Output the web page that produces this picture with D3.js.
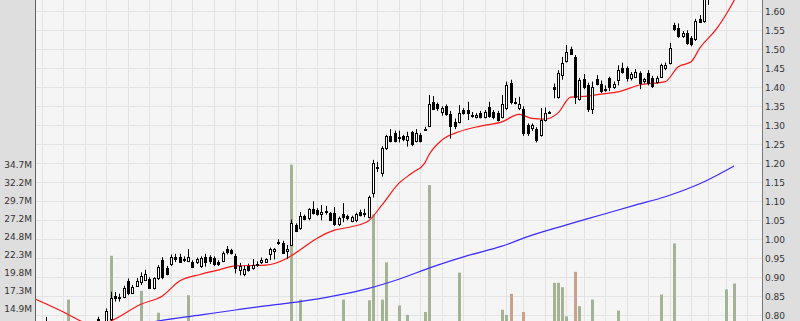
<!DOCTYPE html>
<html>
<head>
<meta charset="utf-8">
<script src="https://cdnjs.cloudflare.com/ajax/libs/d3/7.8.5/d3.min.js"></script>
<style>
body { margin: 0; background: #fff; }
svg { display: block; }
</style>
</head>
<body>
<script>
// SVG size
var width = 800,
	height = 321;

// daily candles, first entry is trading day 1
var firstDay = 1;
var opens = [0.780,0.772,0.765,0.770,0.762,0.768,0.775,0.762,0.758,0.765,0.760,0.766,0.791,0.780,0.772,0.790,0.851,0.848,0.849,0.890,
	0.860,0.878,0.887,0.894,0.896,0.871,0.897,0.945,0.924,0.935,0.954,0.954,0.945,0.943,0.939,0.940,0.930,0.954,0.954,0.951,
	0.941,0.944,0.974,0.972,0.956,0.919,0.909,0.930,0.924,0.934,0.939,0.941,0.962,0.968,0.991,0.990,0.968,0.985,1.038,1.029,
	1.061,1.055,1.079,1.077,1.067,1.072,1.068,1.068,1.039,1.067,1.061,1.049,1.051,1.073,1.068,1.058,1.121,1.189,1.174,1.240,
	1.272,1.280,1.267,1.271,1.261,1.282,1.260,1.275,1.289,1.298,1.360,1.356,1.335,1.350,1.330,1.310,1.310,1.340,1.340,1.326,
	1.322,1.333,1.322,1.347,1.336,1.333,1.321,1.345,1.412,1.361,1.345,1.342,1.300,1.292,1.289,1.274,1.314,1.335,1.400,1.375,
	1.432,1.470,1.500,1.480,1.370,1.421,1.406,1.343,1.422,1.410,1.395,1.424,1.400,1.420,1.450,1.450,1.424,1.428,1.438,1.416,
	1.438,1.424,1.414,1.428,1.450,1.465,1.564,1.555,1.536,1.542,1.529,1.527,1.580,1.575,1.640,1.665,1.690,1.700,1.695,1.740,1.735];
var highs = [0.796,0.780,0.775,0.778,0.772,0.782,0.780,0.770,0.768,0.775,0.770,0.780,0.796,0.783,0.818,0.862,0.861,0.857,0.878,0.897,
	0.880,0.898,0.913,0.920,0.900,0.900,0.932,0.953,0.930,0.960,0.962,0.962,0.955,0.974,0.945,0.952,0.955,0.962,0.958,0.955,
	0.945,0.968,0.982,0.975,0.962,0.938,0.930,0.936,0.948,0.942,0.952,0.950,0.978,0.977,1.000,0.996,0.985,1.052,1.042,1.072,
	1.065,1.082,1.100,1.082,1.090,1.088,1.072,1.085,1.060,1.095,1.065,1.062,1.070,1.078,1.080,1.115,1.209,1.204,1.245,1.275,
	1.290,1.286,1.286,1.275,1.283,1.285,1.290,1.280,1.296,1.380,1.377,1.360,1.350,1.355,1.338,1.318,1.353,1.345,1.362,1.335,
	1.332,1.338,1.340,1.362,1.340,1.338,1.380,1.415,1.420,1.372,1.375,1.350,1.305,1.305,1.295,1.345,1.347,1.338,1.410,1.445,
	1.480,1.511,1.507,1.485,1.425,1.435,1.412,1.415,1.432,1.418,1.405,1.428,1.415,1.458,1.465,1.455,1.440,1.448,1.442,1.425,
	1.445,1.430,1.430,1.462,1.465,1.517,1.570,1.568,1.548,1.550,1.535,1.580,1.590,1.660,1.680,1.700,1.720,1.730,1.750,1.770,1.790];
var lows = [0.765,0.760,0.755,0.760,0.752,0.760,0.758,0.750,0.748,0.755,0.752,0.760,0.772,0.765,0.768,0.785,0.836,0.836,0.845,0.853,
	0.856,0.875,0.880,0.890,0.870,0.868,0.893,0.895,0.905,0.930,0.940,0.938,0.940,0.940,0.925,0.935,0.925,0.928,0.935,0.930,
	0.930,0.940,0.960,0.960,0.910,0.905,0.903,0.915,0.920,0.928,0.935,0.938,0.945,0.947,0.985,0.962,0.948,0.982,1.020,1.025,
	1.050,1.050,1.065,1.062,1.050,1.065,1.048,1.035,1.035,1.045,1.050,1.045,1.045,1.060,1.058,1.055,1.110,1.177,1.165,1.235,
	1.255,1.255,1.255,1.258,1.244,1.245,1.255,1.255,1.285,1.295,1.340,1.338,1.325,1.325,1.265,1.290,1.305,1.328,1.314,1.320,
	1.318,1.318,1.318,1.320,1.316,1.310,1.318,1.340,1.355,1.355,1.340,1.272,1.272,1.285,1.255,1.270,1.310,1.333,1.371,1.370,
	1.420,1.465,1.485,1.356,1.365,1.395,1.335,1.330,1.405,1.385,1.388,1.390,1.396,1.405,1.436,1.415,1.418,1.425,1.395,1.410,
	1.405,1.398,1.410,1.425,1.445,1.460,1.548,1.530,1.530,1.512,1.508,1.522,1.570,1.570,1.617,1.650,1.670,1.680,1.690,1.720,1.730];
var closes = [0.772,0.765,0.770,0.762,0.768,0.775,0.762,0.758,0.765,0.760,0.766,0.775,0.780,0.770,0.811,0.845,0.845,0.849,0.872,0.859,
	0.874,0.890,0.904,0.908,0.873,0.897,0.928,0.900,0.910,0.954,0.947,0.940,0.947,0.953,0.928,0.947,0.950,0.941,0.942,0.934,
	0.934,0.965,0.967,0.963,0.924,0.930,0.921,0.919,0.933,0.936,0.945,0.947,0.974,0.975,0.993,0.965,0.975,1.042,1.023,1.061,
	1.053,1.079,1.070,1.067,1.073,1.074,1.051,1.039,1.055,1.058,1.055,1.058,1.066,1.064,1.070,1.110,1.200,1.191,1.240,1.272,
	1.260,1.260,1.269,1.264,1.272,1.250,1.280,1.260,1.291,1.356,1.343,1.345,1.345,1.330,1.298,1.298,1.333,1.333,1.333,1.328,
	1.328,1.322,1.336,1.324,1.321,1.314,1.356,1.406,1.360,1.362,1.356,1.279,1.279,1.300,1.261,1.314,1.333,1.336,1.395,1.438,
	1.465,1.494,1.488,1.375,1.419,1.400,1.342,1.400,1.410,1.390,1.396,1.400,1.410,1.446,1.441,1.424,1.435,1.441,1.412,1.421,
	1.412,1.403,1.424,1.459,1.460,1.504,1.553,1.535,1.542,1.516,1.513,1.574,1.573,1.640,1.665,1.690,1.700,1.695,1.740,1.735,1.780];

// volume bars tall enough to show (day index, millions)
var volumeDays = [6, 16, 23, 27, 34, 58, 60, 70, 76, 77, 79, 80, 83, 85, 89, 90, 97, 107, 108, 109, 112,
	119, 120, 121, 122, 124, 125, 128, 134, 144, 147, 159, 161];
var volumeValues = [16.1, 22.1, 17.3, 14.3, 16.7, 34.6, 16.1, 16.1, 16.0, 27.8, 16.1, 21.2, 15.3, 14.0, 14.4, 31.8, 19.8, 14.7, 14.0, 16.9, 14.4,
	18.4, 18.4, 17.8, 13.8, 19.9, 15.2, 16.1, 14.6, 16.8, 23.8, 17.5, 18.3];

// moving averages
var redMaDays = [-2, 6, 9, 12, 16, 23, 28, 32, 37, 41, 45, 52, 57, 60, 64, 68, 72, 76, 79, 83, 86, 89, 90, 93, 97,
	102, 107, 111, 114, 117, 120, 123, 127, 130, 134, 139, 145, 148, 151, 153, 157, 160, 162];
var redMaValues = [0.845, 0.803, 0.785, 0.772, 0.785, 0.829, 0.851, 0.890, 0.908, 0.919, 0.930, 0.932, 0.950, 0.972, 1.003, 1.024, 1.033, 1.049, 1.089, 1.147, 1.174, 1.200, 1.222, 1.261, 1.283,
	1.298, 1.309, 1.329, 1.318, 1.316, 1.332, 1.374, 1.377, 1.382, 1.388, 1.406, 1.415, 1.454, 1.467, 1.503, 1.555, 1.608, 1.650];
var blueMaDays = [20, 27, 37, 45, 52, 60, 68, 76, 83, 91, 99, 107, 114, 122, 130, 138, 145, 153, 161];
var blueMaValues = [0.770, 0.785, 0.801, 0.814, 0.825, 0.836, 0.851, 0.871, 0.895, 0.928, 0.957, 0.982, 1.011, 1.038, 1.064, 1.090, 1.112, 1.146, 1.193];

// first trading day of each week (vertical grid)
var weekStarts = [0, 5, 10, 15, 20, 25, 30, 35, 40, 45, 50, 55, 59, 64, 68, 73, 78, 83, 88, 93, 98, 103, 108,
	112, 117, 122, 126, 131, 136, 141, 146, 151, 155, 159, 164];

var priceTicks = [0.80, 0.85, 0.90, 0.95, 1.00, 1.05, 1.10, 1.15, 1.20, 1.25, 1.30, 1.35, 1.40, 1.45, 1.50, 1.55, 1.60];
var volumeTicks = [14.85, 17.325, 19.8, 22.275, 24.75, 27.225, 29.7, 32.175, 34.65];
var volumeTickLabels = ["14.9M", "17.3M", "19.8M", "22.3M", "24.8M", "27.2M", "29.7M", "32.2M", "34.7M"];

var plot = {left: 36, right: 762};

var svg = d3.select("body").append("svg")
	.attr("width", width)
	.attr("height", height);

var xScale = d3.scaleLinear().domain([0, 164]).range([42, 747]);
var yScale = d3.scaleLinear().domain([0.80, 1.60]).range([315.3, 11.3]);
var volScale = d3.scaleLinear().domain([0, 34.65]).range([417, 164.3]);

// backgrounds
svg.append("rect").attr("x", 0).attr("y", 0).attr("width", width).attr("height", height).attr("fill", "#dedede");
svg.append("rect").attr("x", plot.left).attr("y", 0)
	.attr("width", plot.right - plot.left).attr("height", height).attr("fill", "#f5f5f5");

svg.append("defs").append("clipPath").attr("id", "clip")
	.append("rect").attr("x", plot.left).attr("y", 0)
	.attr("width", plot.right - plot.left).attr("height", height);

var g = svg.append("g").attr("clip-path", "url(#clip)");

// grid
g.selectAll("line.hgrid").data(priceTicks).enter().append("line")
	.attr("class", "hgrid")
	.attr("x1", plot.left).attr("x2", plot.right)
	.attr("y1", function(d){ return Math.round(yScale(d)) + 0.5; })
	.attr("y2", function(d){ return Math.round(yScale(d)) + 0.5; })
	.attr("stroke", "#e3e3e3");
g.selectAll("line.vgrid").data(weekStarts).enter().append("line")
	.attr("class", "vgrid")
	.attr("y1", 0).attr("y2", height)
	.attr("x1", function(d){ return Math.round(xScale(d)) + 0.5; })
	.attr("x2", function(d){ return Math.round(xScale(d)) + 0.5; })
	.attr("stroke", "#e3e3e3");

var candles = opens.map(function(o, k){
	return {day: firstDay + k, open: o, high: highs[k], low: lows[k], close: closes[k]};
});
var closeByDay = {};
candles.forEach(function(d){ closeByDay[d.day] = d.close; });

// volume
var volumes = volumeDays.map(function(d, k){ return {day: d, value: volumeValues[k]}; });
g.selectAll("rect.vol").data(volumes).enter().append("rect")
	.attr("class", "vol")
	.attr("x", function(d){ return Math.round(xScale(d.day)) - 1; })
	.attr("width", 3)
	.attr("y", function(d){ return volScale(d.value); })
	.attr("height", function(d){ return volScale(0) - volScale(d.value); })
	.attr("fill", function(d){
		var prev = closeByDay[d.day - 1];
		return (prev !== undefined && closeByDay[d.day] < prev) ? "#c9a28e" : "#a4b394";
	});

// moving averages
var maLine = d3.line()
	.x(function(d){ return xScale(d[0]); })
	.y(function(d){ return yScale(d[1]); })
	.curve(d3.curveMonotoneX);
g.append("path")
	.datum(blueMaDays.map(function(d, k){ return [d, blueMaValues[k]]; }))
	.attr("d", maLine).attr("fill", "none").attr("stroke", "#3a2bff").attr("stroke-width", 1.2);
g.append("path")
	.datum(redMaDays.map(function(d, k){ return [d, redMaValues[k]]; }))
	.attr("d", maLine).attr("fill", "none").attr("stroke", "#ff1414").attr("stroke-width", 1.2);

// candles
var cg = g.selectAll("g.candle").data(candles).enter().append("g").attr("class", "candle");
cg.append("line")
	.attr("x1", function(d){ return Math.round(xScale(d.day)) + 0.5; })
	.attr("x2", function(d){ return Math.round(xScale(d.day)) + 0.5; })
	.attr("y1", function(d){ return yScale(d.high); })
	.attr("y2", function(d){ return yScale(d.low); })
	.attr("stroke", "#000");
cg.append("rect")
	.attr("x", function(d){ return Math.round(xScale(d.day)) - 0.5; })
	.attr("width", 2)
	.attr("y", function(d){ return Math.round(yScale(Math.max(d.open, d.close))) + 0.5; })
	.attr("height", function(d){
		return Math.max(1, Math.round(yScale(Math.min(d.open, d.close))) - Math.round(yScale(Math.max(d.open, d.close))));
	})
	.attr("fill", function(d){ return d.close >= d.open ? "#fff" : "#000"; })
	.attr("stroke", "#000");

// axes
var rightAxis = d3.axisRight(yScale)
	.tickValues(priceTicks)
	.tickFormat(d3.format(".2f"))
	.tickSize(0)
	.tickPadding(3);
var ra = svg.append("g")
	.attr("transform", "translate(" + plot.right + ",0)")
	.call(rightAxis);
var leftAxis = d3.axisLeft(volScale)
	.tickValues(volumeTicks)
	.tickFormat(function(d, k){ return volumeTickLabels[k]; })
	.tickSize(0)
	.tickPadding(3);
var la = svg.append("g")
	.attr("transform", "translate(" + (plot.left - 1) + ",0)")
	.call(leftAxis);
[ra, la].forEach(function(a){
	a.select(".domain").remove();
	a.selectAll("text")
		.attr("font-family", "DejaVu Sans")
		.attr("font-size", 9)
		.attr("fill", "#333");
});

svg.append("line").attr("x1", plot.left - 0.5).attr("x2", plot.left - 0.5)
	.attr("y1", 0).attr("y2", height).attr("stroke", "#5b6360");
svg.append("line").attr("x1", plot.right + 0.5).attr("x2", plot.right + 0.5)
	.attr("y1", 0).attr("y2", height).attr("stroke", "#7a7a7a");
</script>
</body>
</html>
